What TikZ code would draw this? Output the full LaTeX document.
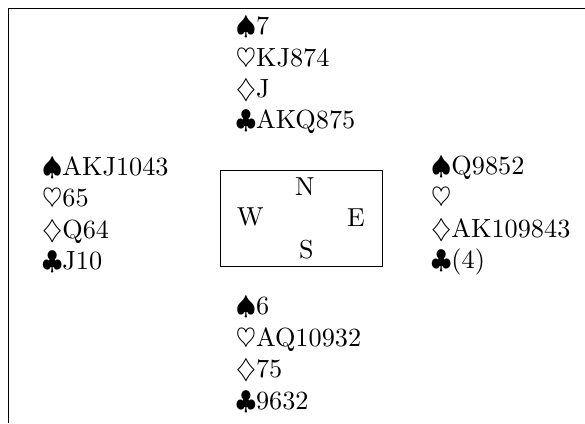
\documentclass[tikz,border=0pt]{standalone}
\usepackage{tikz}

\begin{document}
\begin{tikzpicture}
\tikzstyle{every node}=[inner sep=0pt]
\tikzstyle{hand}=[anchor=north west, align=left, font=\fontsize{10.1}{12.1}\selectfont]
\useasboundingbox (0,0) rectangle (7.905,5.716);
\draw (0.113,0) -- (0.113,5.595) -- (7.905,5.595);
\draw (3.18,5.50) node (nhand) [hand] {$\spadesuit$7\\$\heartsuit$KJ874\\$\diamondsuit$J\\$\clubsuit$AKQ875};
\draw (0.563,3.61) node (whand) [hand] {$\spadesuit$AKJ1043\\$\heartsuit$65\\$\diamondsuit$Q64\\$\clubsuit$J10};
\draw (5.82,3.62) node (ehand) [hand] {$\spadesuit$Q9852\\$\heartsuit$\\$\diamondsuit$AK109843\\$\clubsuit$(4)};
\draw (3.18,1.716) node (shand) [hand] {$\spadesuit$6\\$\heartsuit$AQ10932\\$\diamondsuit$75\\$\clubsuit$9632};
\draw (4.07,2.76) node (table) [draw, minimum width=2.19cm, minimum height=1.30cm] {};
\draw (4.12,3.19) node (n) {N};
\draw (3.38,2.78) node (w) {W};
\draw (4.81,2.78) node (e) {E};
\draw (4.14,2.34) node (s) {S};
\end{tikzpicture}
\end{document}
